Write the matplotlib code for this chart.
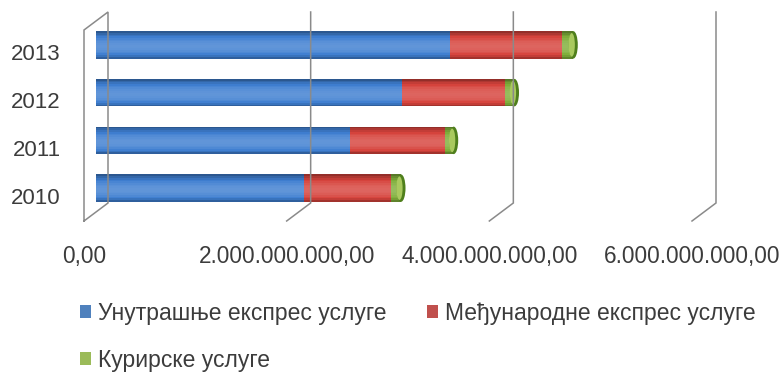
import numpy as np
import matplotlib
matplotlib.use("Agg")
import matplotlib.pyplot as plt
import matplotlib.transforms as mtransforms
from matplotlib.lines import Line2D
from matplotlib.patches import Ellipse, Rectangle
from matplotlib.colors import to_rgb

# -----------------------------
# Data (values in RSD)
# -----------------------------
years = ["2010", "2011", "2012", "2013"]
domestic = np.array([2.05, 2.51, 3.02, 3.49]) * 1e9
international = np.array([0.86, 0.93, 1.02, 1.11]) * 1e9
courier = np.array([0.10, 0.09, 0.09, 0.11]) * 1e9

series_names = ["Унутрашње експрес услуге", "Међународне експрес услуге", "Курирске услуге"]
series_colors = ["#3E7ED0", "#D6433C", "#7FAE3A"]
legend_colors = ["#4F81BD", "#C0504D", "#9BBB59"]

x_ticks = [0, 2e9, 4e9, 6e9]
x_tick_labels = ["0,00", "2.000.000.000,00", "4.000.000.000,00", "6.000.000.000,00"]

plt.rcParams["font.family"] = ["Liberation Sans", "DejaVu Sans"]
TEXT = "#3C3C3C"
GRID = "#8A8A8A"

W, H, DPI = 782, 372, 100
fig = plt.figure(figsize=(W / DPI, H / DPI), dpi=DPI)
ax = fig.add_axes([96 / W, 1 - 212 / H, 608 / W, 191 / H])
ax.set_xlim(0, 6e9)
ax.set_ylim(-0.5, 3.5)
ax.set_autoscale_on(False)
ax.axis("off")

# depth of the 3D frame, in pixels
DX, DY = 12, 9
y0, y1 = -0.5, 3.5


def frame_line(pts):
    # pts: (x, y, depth) with depth -1 = front plane, +1 = back plane
    xy = []
    for x, y, d in pts:
        px, py = ax.transData.transform((x, y))
        xy.append(fig.transFigure.inverted().transform((px + d * DX, py + d * DY)))
    xy = np.array(xy)
    fig.add_artist(Line2D(xy[:, 0], xy[:, 1], color=GRID, lw=1.1, zorder=0.5,
                          solid_joinstyle="miter"))


# left wall
frame_line([(0, y0, -1), (0, y1, -1), (0, y1, 1), (0, y0, 1), (0, y0, -1)])
# gridlines on the back wall, dropping to the front of the floor
for xt in x_ticks[1:]:
    frame_line([(xt, y1, 1), (xt, y0, 1), (xt, y0, -1)])

# tick labels sit on the front plane
tick_tr = mtransforms.offset_copy(ax.transData, fig=fig, x=-12, y=-45, units="dots")
for xt, lab in zip(x_ticks, x_tick_labels):
    ax.text(xt, y0, lab, transform=tick_tr, ha="center", va="center",
            fontsize=16.3, color=TEXT)

year_tr = mtransforms.offset_copy(ax.transData, fig=fig, x=-35, y=-10, units="dots")
ypos = np.arange(len(years))
for y, lab in zip(ypos, years):
    ax.text(0, y, lab, transform=year_tr, ha="right", va="center",
            fontsize=16, color=TEXT)


# -----------------------------
# Cylinder bars
# -----------------------------
bar_h = 0.575
n_strips = 16
cap_a = 4.5 * 6e9 / 608


def shaded(color, n):
    base = np.array(to_rgb(color))
    t = (np.arange(n) + 0.5) / n
    k = 0.58 + 0.62 * np.sin(np.pi * t ** 0.85) ** 0.7
    out = []
    for f in k:
        if f > 1:
            out.append(base + (1 - base) * (f - 1) * 0.9)
        else:
            out.append(base * f)
    return [tuple(np.clip(c, 0, 1)) for c in out]


def draw_strips(lefts, widths, color, zorder, clip=None):
    cols = shaded(color, n_strips)
    sh = bar_h / n_strips
    for j, c in enumerate(cols):
        bars = ax.barh(ypos - bar_h / 2 + (j + 0.5) * sh, widths, left=lefts,
                       height=sh * 1.02, color=c, linewidth=0, zorder=zorder)
        if clip is not None:
            for b, cp in zip(bars, clip):
                b.set_clip_path(cp)


# rounded left end
left_caps = [Ellipse((0, y), 2 * cap_a, bar_h, transform=ax.transData) for y in ypos]
draw_strips(np.full(len(years), -cap_a), np.full(len(years), cap_a),
            series_colors[0], 2, clip=left_caps)

starts = np.zeros(len(years))
for vals, col in zip([domestic, international, courier], series_colors):
    draw_strips(starts, vals, col, 3)
    starts = starts + vals

# end face of the last segment
for y, e in zip(ypos, starts):
    ax.add_patch(Ellipse((e, y), 2 * cap_a, bar_h, facecolor="#4F7F1C",
                         edgecolor="none", zorder=4, clip_on=False))
    ax.add_patch(Ellipse((e - cap_a * 0.35, y), 2 * cap_a * 0.7, bar_h * 0.86,
                         facecolor="#A9C95E", edgecolor="none", zorder=5,
                         clip_on=False))

# -----------------------------
# Legend
# -----------------------------
handles = [Rectangle((0, 0), 1, 1, facecolor=c, edgecolor="none") for c in legend_colors]
order = [0, 2, 1]
fig.legend([handles[i] for i in order], [series_names[i] for i in order],
           ncol=2, loc="upper left", bbox_to_anchor=(80 / W, 1 - 302 / H),
           frameon=False, fontsize=16.5, labelcolor=TEXT,
           handlelength=0.48, handleheight=0.48, handletextpad=0.32,
           columnspacing=1.75, labelspacing=1.04, borderpad=0, borderaxespad=0)

fig.savefig("out.png", dpi=DPI)
